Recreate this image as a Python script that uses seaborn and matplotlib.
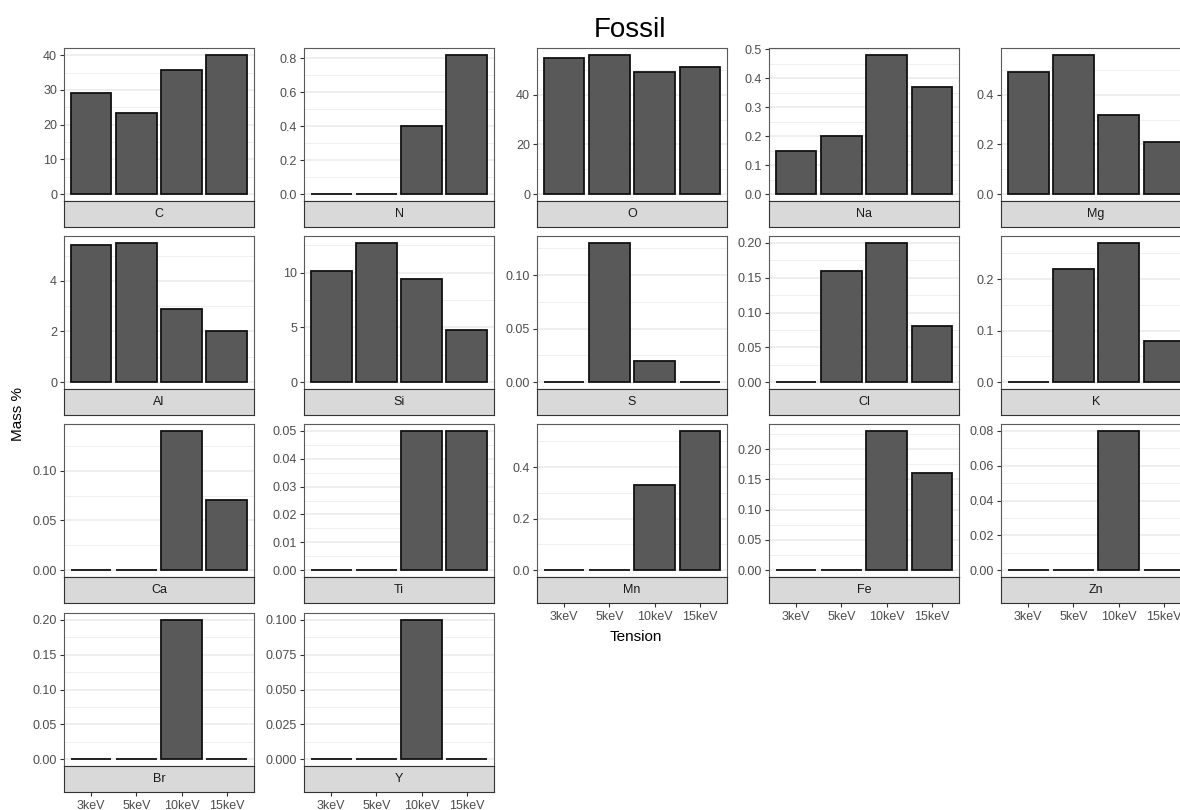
import numpy as np
import pandas as pd
import matplotlib
matplotlib.use("Agg")
import matplotlib.pyplot as plt
from matplotlib.ticker import MultipleLocator, FormatStrFormatter
from decimal import Decimal
import seaborn as sns

# ---- data -----------------------------------------------------------------
tensions = ["3keV", "5keV", "10keV", "15keV"]
elements = ["C", "N", "O", "Na", "Mg", "Al", "Si", "S", "Cl", "K",
            "Ca", "Ti", "Mn", "Fe", "Zn", "Br", "Y"]

mass_C = [29.2, 23.5, 35.8, 40.1]
mass_N = [0.0, 0.0, 0.40, 0.82]
mass_O = [54.7, 56.1, 49.1, 51.1]
mass_Na = [0.15, 0.20, 0.48, 0.37]
mass_Mg = [0.49, 0.56, 0.32, 0.21]
mass_Al = [5.43, 5.50, 2.89, 2.02]
mass_Si = [10.18, 12.70, 9.40, 4.76]
mass_S = [0.0, 0.13, 0.02, 0.0]
mass_Cl = [0.0, 0.16, 0.20, 0.08]
mass_K = [0.0, 0.22, 0.27, 0.08]
mass_Ca = [0.0, 0.0, 0.14, 0.07]
mass_Ti = [0.0, 0.0, 0.05, 0.05]
mass_Mn = [0.0, 0.0, 0.33, 0.54]
mass_Fe = [0.0, 0.0, 0.23, 0.16]
mass_Zn = [0.0, 0.0, 0.08, 0.0]
mass_Br = [0.0, 0.0, 0.20, 0.0]
mass_Y = [0.0, 0.0, 0.10, 0.0]

# y-axis break spacing for each facet
y_steps = [10, 0.2, 20, 0.1, 0.2, 2, 5, 0.05, 0.05, 0.1,
           0.05, 0.01, 0.2, 0.05, 0.02, 0.05, 0.025]

mass_by_element = [mass_C, mass_N, mass_O, mass_Na, mass_Mg, mass_Al, mass_Si,
                   mass_S, mass_Cl, mass_K, mass_Ca, mass_Ti, mass_Mn, mass_Fe,
                   mass_Zn, mass_Br, mass_Y]

df = pd.DataFrame(
    [(el, t, v) for el, vals in zip(elements, mass_by_element)
     for t, v in zip(tensions, vals)],
    columns=["Element", "Tension", "Mass"],
)

# ---- style ----------------------------------------------------------------
sns.set_theme(style="white")
plt.rcParams["font.family"] = ["Liberation Sans", "DejaVu Sans"]

W, H = 1180, 810
fig = plt.figure(figsize=(W / 100, H / 100), dpi=100)
fig.patch.set_facecolor("white")

col_left = [64, 304, 537, 769, 1001]
row_top = [48, 236, 424, 613]
panel_w, panel_h, strip_h = 190, 153, 26
ncol = 5
n = len(elements)

bar_fill = "#595959"
grid_col = "#EBEBEB"
border_col = "#5a5a5a"
tick_col = "#333333"
label_col = "#4D4D4D"

for i, el in enumerate(elements):
    r, c = divmod(i, ncol)
    left = col_left[c] / W
    bottom = 1 - (row_top[r] + panel_h) / H
    ax = fig.add_axes([left, bottom, panel_w / W, panel_h / H])
    sub = df[df["Element"] == el]
    sns.barplot(data=sub, x="Tension", y="Mass", order=tensions,
                color=bar_fill, saturation=1, edgecolor="#111111",
                linewidth=1.3, width=0.9, errorbar=None, ax=ax, zorder=3)
    ax.set_xlim(-0.6, 3.6)
    ymax = sub["Mass"].max()
    ax.set_ylim(-0.05 * ymax, 1.05 * ymax)
    step = y_steps[i]
    dec = max(0, -Decimal(str(step)).normalize().as_tuple().exponent)
    ax.yaxis.set_major_locator(MultipleLocator(step))
    ax.yaxis.set_minor_locator(MultipleLocator(step / 2))
    ax.yaxis.set_major_formatter(FormatStrFormatter(f"%.{dec}f"))
    ax.grid(which="major", axis="y", color=grid_col, lw=1.1, zorder=0)
    ax.grid(which="minor", axis="y", color=grid_col, lw=0.55, zorder=0)
    ax.grid(which="major", axis="x", visible=False)
    ax.set_axisbelow(True)
    ax.set_xlabel("")
    ax.set_ylabel("")
    ax.tick_params(axis="y", which="major", left=True, length=3, width=0.8,
                   color=tick_col, labelcolor=label_col, labelsize=9, pad=2)
    ax.tick_params(axis="y", which="minor", left=False)
    ax.tick_params(axis="x", bottom=False, labelbottom=False)
    for sp in ax.spines.values():
        sp.set_color(border_col)
        sp.set_linewidth(0.8)

    # strip below each panel, with category axis on the last row of a column
    sax = fig.add_axes([left, bottom - strip_h / H, panel_w / W, strip_h / H],
                       sharex=ax)
    sax.set_facecolor("#D9D9D9")
    sax.set_yticks([])
    sax.text(0.5, 0.5, el, transform=sax.transAxes, ha="center", va="center",
             fontsize=9, color="#1A1A1A")
    for sp in sax.spines.values():
        sp.set_color("#333333")
        sp.set_linewidth(0.8)
    if i + ncol >= n:
        sax.tick_params(axis="x", bottom=True, labelbottom=True, length=3,
                        width=0.8, color=tick_col, labelcolor=label_col,
                        labelsize=9, pad=3)
    else:
        sax.tick_params(axis="x", bottom=False, labelbottom=False)
    sax.set_xlabel("")

fig.text(630 / W, 1 - 30 / H, "Fossil", ha="center", va="center",
         fontsize=20, color="black")
fig.text(18 / W, 1 - 414 / H, "Mass %", ha="center", va="center",
         rotation=90, fontsize=11, color="black")
fig.text(636 / W, 1 - 637 / H, "Tension", ha="center", va="center",
         fontsize=11, color="black")

fig.savefig("out.png", dpi=100)
